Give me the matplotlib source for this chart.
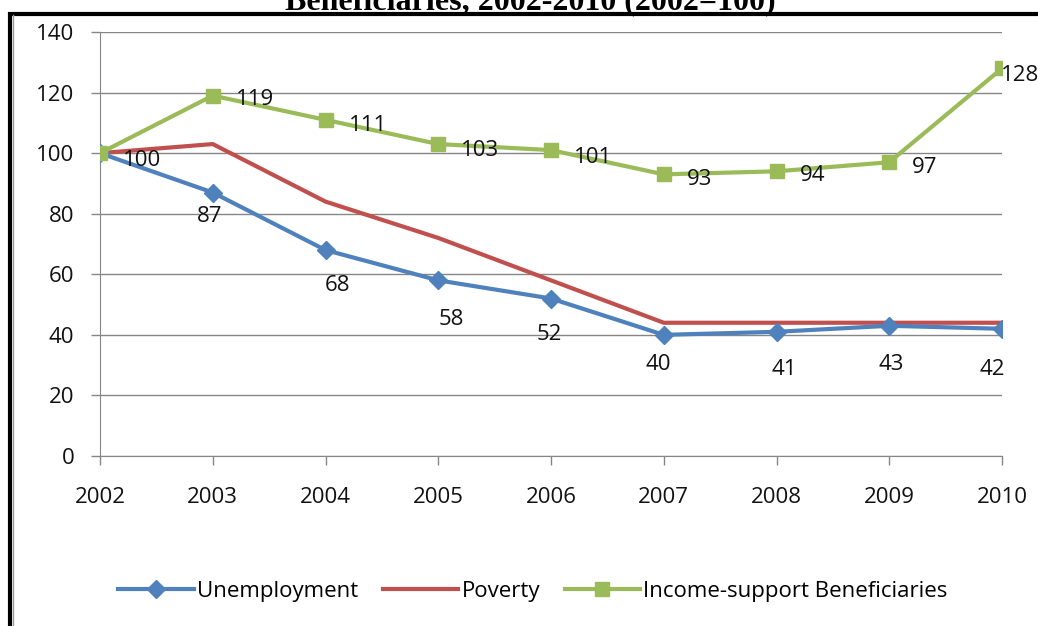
import matplotlib
matplotlib.use("Agg")
import matplotlib.pyplot as plt
from matplotlib.patches import Rectangle
from matplotlib.lines import Line2D

years = [2002, 2003, 2004, 2005, 2006, 2007, 2008, 2009, 2010]
unemployment = [100, 87, 68, 58, 52, 40, 41, 43, 42]
poverty = [100, 103, 84, 72, 58, 44, 44, 44, 44]
income_support = [100, 119, 111, 103, 101, 93, 94, 97, 128]
yticks = [0, 20, 40, 60, 80, 100, 120, 140]
title = "Beneficiaries, 2002-2010 (2002=100)"

# label placement (pixels relative to the marker), styling only
unemp_label_dx = [0, -3, 12, 13, -2, -5, 8, 2, -10]
unemp_label_dy = [0, -24, -35, -39, -36, -30, -38, -39, -41]
income_label_dx = [23, 23, 23, 23, 23, 23, 23, 23, -1]
income_label_dy = [-7, -4, -6, -6, -7, -5, -4, -5, -7]

BLUE = "#4F81BD"
RED = "#C0504D"
GREEN = "#9BBB59"
GRID = "#868686"
TXT = "#111111"
FONT = "Open Sans"
FS = 16
PT = 0.72  # points per pixel at 100 dpi

W, H = 1038, 626
fig = plt.figure(figsize=(W / 100, H / 100), dpi=100)
ax = fig.add_axes([100 / W, 1 - 456 / H, (1002 - 100) / W, (456 - 32) / H])

ax.plot(years, unemployment, color=BLUE, lw=3, marker="D", ms=9, zorder=3,
        label="Unemployment")
ax.plot(years, poverty, color=RED, lw=3, zorder=2, label="Poverty")
ax.plot(years, income_support, color=GREEN, lw=3, marker="s", ms=10, zorder=4,
        label="Income-support Beneficiaries")

for i in range(1, len(years)):
    ax.annotate(str(unemployment[i]), (years[i], unemployment[i]),
                xytext=(unemp_label_dx[i] * PT, unemp_label_dy[i] * PT),
                textcoords="offset points", ha="center", va="center",
                fontsize=FS, family=FONT, color=TXT)
for i in range(len(years)):
    ax.annotate(str(income_support[i]), (years[i], income_support[i]),
                xytext=(income_label_dx[i] * PT, income_label_dy[i] * PT),
                textcoords="offset points", ha="left", va="center",
                fontsize=FS, family=FONT, color=TXT, zorder=5,
                annotation_clip=False)

ax.set_xlim(years[0], years[-1])
ax.set_ylim(0, 140)
ax.set_yticks(yticks)
ax.set_xticks(years)
ax.set_xticklabels([str(y) for y in years])
ax.grid(axis="y", color=GRID, lw=1)
ax.set_axisbelow(True)
for s in ["top", "right"]:
    ax.spines[s].set_visible(False)
ax.spines["left"].set_color(GRID)
ax.spines["bottom"].set_color(GRID)
ax.tick_params(axis="both", color=GRID, length=6.5, width=1, labelsize=FS,
               labelcolor=TXT)
ax.tick_params(axis="x", pad=16)
ax.tick_params(axis="y", pad=12)
for lab in ax.get_xticklabels() + ax.get_yticklabels():
    lab.set_family(FONT)
ax.set_facecolor("none")

handles = [
    Line2D([], [], color=BLUE, lw=3, marker="D", ms=9),
    Line2D([], [], color=RED, lw=3),
    Line2D([], [], color=GREEN, lw=3, marker="s", ms=10),
]
fig.legend(handles, ["Unemployment", "Poverty", "Income-support Beneficiaries"],
           loc="center", bbox_to_anchor=(533 / W, 1 - 591 / H), ncol=3,
           frameon=False, prop={"family": FONT, "size": FS}, handlelength=3.4,
           handletextpad=0.15, columnspacing=1.1)

# outer border (partially outside the image)
fig.add_artist(Rectangle((9.5 / W, -0.2), 1.2, 1 - 13.5 / H + 0.2,
                         transform=fig.transFigure, fill=False, ec="black", lw=3))
fig.add_artist(Line2D([12.5 / W, 12.5 / W], [0, 1 - 15 / H], transform=fig.transFigure,
                      color="#9a9a9a", lw=1))

fig.text(530 / W, 1 - 9 / H, title, ha="center", va="baseline", fontsize=23,
         fontweight="bold", family="Liberation Serif")

fig.savefig("out.png", dpi=100)
